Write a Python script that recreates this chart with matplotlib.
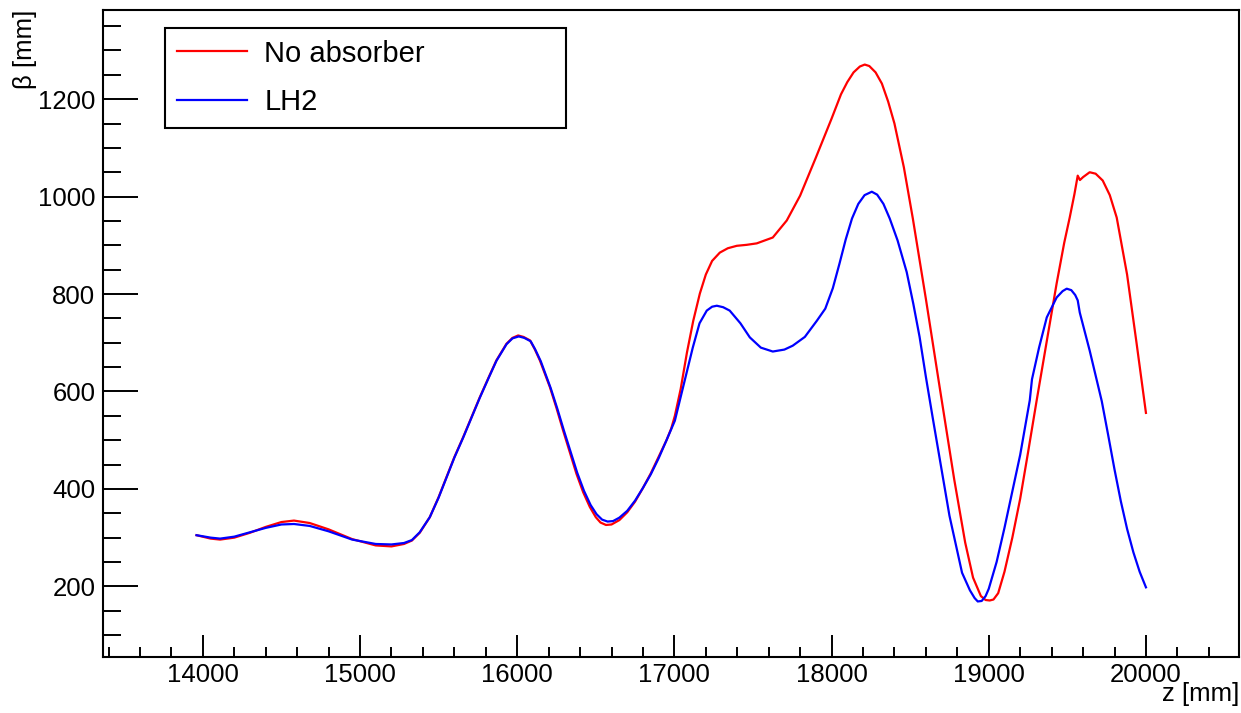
import matplotlib
matplotlib.use("Agg")
import matplotlib.pyplot as plt
from matplotlib.ticker import MultipleLocator

# ---- data ----
z_noabs = [13960, 14050, 14110, 14200, 14300, 14400, 14500, 14580, 14680, 14800,
           14950, 15100, 15200, 15280, 15330, 15380, 15444, 15500, 15550, 15600,
           15656, 15700, 15762, 15820, 15868, 15932, 15970, 16006, 16040, 16081,
           16110, 16144, 16208, 16250, 16292, 16335, 16377, 16420, 16462, 16500,
           16530, 16565, 16600, 16650, 16700, 16750, 16800, 16850, 16900, 16950,
           16980, 17003, 17040, 17080, 17120, 17162, 17200, 17240, 17289, 17340,
           17397, 17460, 17524, 17626, 17715, 17800, 17900, 18000, 18060, 18100,
           18140, 18180, 18211, 18240, 18280, 18320, 18360, 18400, 18460, 18517,
           18600, 18688, 18780, 18850, 18900, 18950, 18980, 19006, 19030, 19060,
           19100, 19150, 19200, 19250, 19305, 19370, 19432, 19480, 19515, 19545,
           19566, 19580, 19600, 19642, 19680, 19725, 19770, 19814, 19880, 19940,
           20000]
beta_noabs = [305, 298, 296, 300, 310, 322, 332, 335, 330, 317,
              297, 284, 282, 287, 294, 310, 342, 383, 424, 465,
              506, 540, 588, 630, 664, 698, 710, 715, 712, 705,
              688, 664, 609, 566, 520, 475, 431, 393, 363, 342,
              331, 326, 327, 336, 352, 374, 402, 432, 466, 500,
              524, 550, 605, 680, 745, 801, 840, 868, 885, 894,
              899, 901, 904, 916, 951, 1002, 1080, 1160, 1210, 1235,
              1255, 1267, 1271, 1268, 1255, 1232, 1195, 1150, 1060, 955,
              790, 608, 420, 290, 218, 180, 172, 171, 173, 186,
              230, 300, 380, 475, 582, 705, 822, 905, 957, 1005,
              1043, 1034, 1040, 1050, 1047, 1033, 1003, 957, 840, 700,
              556]

z_lh2 = [13960, 14050, 14110, 14200, 14300, 14400, 14500, 14580, 14680, 14800,
         14950, 15100, 15200, 15280, 15330, 15380, 15444, 15500, 15550, 15600,
         15656, 15700, 15762, 15820, 15868, 15932, 15970, 16010, 16045, 16086,
         16115, 16150, 16213, 16255, 16297, 16340, 16382, 16425, 16467, 16505,
         16540, 16575, 16610, 16650, 16700, 16750, 16800, 16850, 16900, 16950,
         17003, 17060, 17117, 17160, 17206, 17240, 17270, 17310, 17352, 17420,
         17480, 17550, 17626, 17700, 17753, 17830, 17906, 17960, 18008, 18050,
         18090, 18130, 18170, 18210, 18256, 18290, 18330, 18370, 18420, 18478,
         18520, 18560, 18600, 18644, 18750, 18830, 18880, 18910, 18930, 18955,
         18980, 19000, 19050, 19100, 19200, 19261, 19275, 19320, 19369, 19432,
         19470, 19496, 19525, 19550, 19566, 19579, 19642, 19719, 19760, 19800,
         19840, 19880, 19920, 19960, 20000]
beta_lh2 = [305, 300, 298, 302, 311, 320, 327, 328, 324, 313,
            296, 287, 286, 289, 295, 311, 342, 382, 423, 464,
            505, 539, 587, 629, 663, 697, 709, 713, 710, 703,
            686, 662, 607, 565, 520, 476, 433, 396, 367, 348,
            337, 333, 334, 341, 355, 376, 402, 430, 463, 500,
            540, 615, 690, 740, 766, 774, 776, 773, 766, 740,
            711, 690, 682, 686, 694, 712, 745, 770, 812, 862,
            912, 955, 985, 1003, 1010, 1004, 985, 955, 910, 845,
            780, 712, 630, 545, 345, 228, 192, 176, 169, 170,
            180, 195, 250, 320, 470, 582, 625, 690, 752, 793,
            806, 811, 808, 798, 787, 762, 684, 580, 510, 440,
            375, 318, 270, 230, 198]

labels = ["No absorber", "LH2"]
colors = ["#ff0000", "#0000ff"]

W, H = 1241, 713
fig = plt.figure(figsize=(W / 100, H / 100), dpi=100)
plt.rcParams['font.family'] = ['Liberation Sans', 'DejaVu Sans']

ax = fig.add_axes([103 / W, 1 - 657 / H, (1239 - 103) / W, (657 - 10) / H])
ax.plot(z_noabs, beta_noabs, color=colors[0], lw=1.6, label=labels[0])
ax.plot(z_lh2, beta_lh2, color=colors[1], lw=1.6, label=labels[1])

ax.set_xlim(13365, 20592)
ax.set_ylim(55, 1383)

ax.xaxis.set_major_locator(MultipleLocator(1000))
ax.xaxis.set_minor_locator(MultipleLocator(200))
ax.yaxis.set_major_locator(MultipleLocator(200))
ax.yaxis.set_minor_locator(MultipleLocator(50))

ax.tick_params(axis='x', which='major', direction='in', length=15.5, width=1.4,
               labelsize=18.5, pad=4.5, top=False)
ax.tick_params(axis='x', which='minor', direction='in', length=7.5, width=1.4, top=False)
ax.tick_params(axis='y', which='major', direction='in', length=25, width=1.4,
               labelsize=18.5, pad=5.5, right=False)
ax.tick_params(axis='y', which='minor', direction='in', length=13, width=1.4, right=False)
for s in ax.spines.values():
    s.set_linewidth(1.5)

fig.text(1239 / W, 1 - 694 / H, "z [mm]", ha='right', va='center', fontsize=18.5)
fig.text(25 / W, 1 - 10 / H, "β [mm]", ha='center', va='top', rotation=90, fontsize=18.5)

leg = ax.legend(loc='upper left',
                bbox_to_anchor=(165 / W, 1 - 28 / H - 0.01, (566 - 165) / W, 0.01),
                bbox_transform=fig.transFigure, mode='expand', borderaxespad=0,
                fontsize=21, frameon=True, fancybox=False, edgecolor='black',
                handlelength=2.4, handletextpad=0.6, labelspacing=0.7, borderpad=0.4)
leg.get_frame().set_linewidth(1.5)
leg.get_frame().set_alpha(1)

fig.savefig("out.png", dpi=100)
